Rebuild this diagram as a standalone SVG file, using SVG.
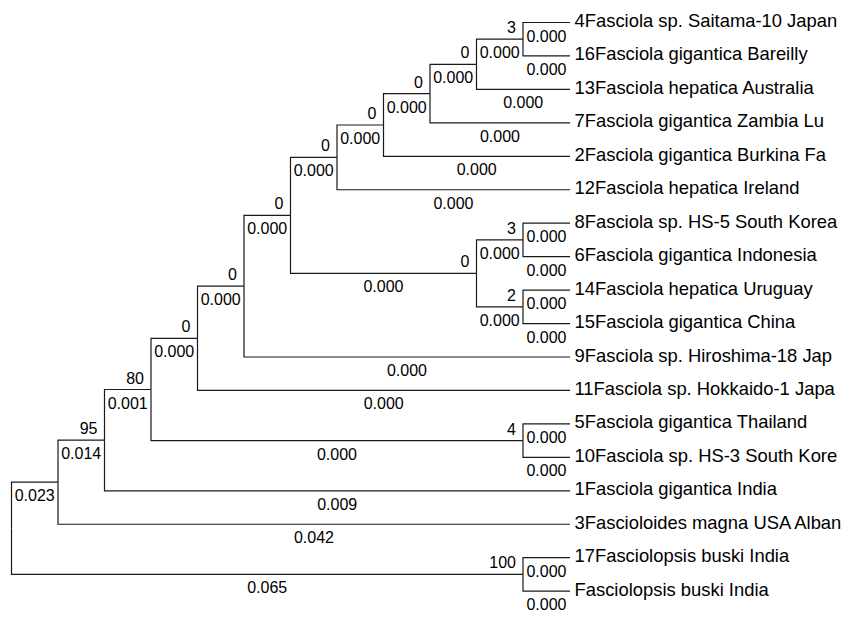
<svg xmlns="http://www.w3.org/2000/svg" width="858" height="617" viewBox="0 0 858 617">
<style>
.br{fill:none;stroke:#1a1a1a;stroke-width:1.2}
.lf{font-family:"Liberation Sans",Arial,sans-serif;font-size:18.4px;fill:#000}
.n{font-family:"Liberation Sans",Arial,sans-serif;font-size:16px;fill:#000}
.bs{text-anchor:end}
.bl{text-anchor:middle}
</style>
<rect width="858" height="617" fill="#fff"/>
<g id="connectors">
<path class="br" d="M11.5 528.3V482.2H58"/>
<path class="br" d="M11.5 528.3V574.4H523"/>
<path class="br" d="M58 482.2V440.2H104.5"/>
<path class="br" d="M58 482.2V524.25H570"/>
<path class="br" d="M104.5 440.2V389.5H151"/>
<path class="br" d="M104.5 440.2V490.8H570"/>
<path class="br" d="M151 389.5V338.3H197.5"/>
<path class="br" d="M151 389.5V440.6H523"/>
<path class="br" d="M197.5 338.3V286.2H244"/>
<path class="br" d="M197.5 338.3V390.45H570"/>
<path class="br" d="M244 286.2V215.4H290.5"/>
<path class="br" d="M244 286.2V357H570"/>
<path class="br" d="M290.5 215.4V157.4H337"/>
<path class="br" d="M290.5 215.4V273.4H476.5"/>
<path class="br" d="M337 157.4V125H383.5"/>
<path class="br" d="M337 157.4V189.75H570"/>
<path class="br" d="M383.5 125V93.6H430"/>
<path class="br" d="M383.5 125V156.3H570"/>
<path class="br" d="M430 93.6V64.3H476.5"/>
<path class="br" d="M430 93.6V122.85H570"/>
<path class="br" d="M476.5 64.3V39.2H523"/>
<path class="br" d="M476.5 64.3V89.4H570"/>
<path class="br" d="M523 39.2V22.5H570"/>
<path class="br" d="M523 39.2V55.95H570"/>
<path class="br" d="M476.5 273.4V239.9H523"/>
<path class="br" d="M476.5 273.4V306.8H523"/>
<path class="br" d="M523 239.9V223.2H570"/>
<path class="br" d="M523 239.9V256.65H570"/>
<path class="br" d="M523 306.8V290.1H570"/>
<path class="br" d="M523 306.8V323.55H570"/>
<path class="br" d="M523 440.6V423.9H570"/>
<path class="br" d="M523 440.6V457.35H570"/>
<path class="br" d="M523 574.4V557.7H570"/>
<path class="br" d="M523 574.4V591.15H570"/>
</g>
<g id="nodeA"><text class="n bs" x="516" y="33.2">3</text><text class="n bl" x="499.75" y="58.2">0.000</text></g>
<g id="nodeB"><text class="n bs" x="469.5" y="58.3">0</text><text class="n bl" x="453.25" y="83.3">0.000</text></g>
<g id="nodeC"><text class="n bs" x="423" y="87.6">0</text><text class="n bl" x="406.75" y="112.6">0.000</text></g>
<g id="nodeD"><text class="n bs" x="376.5" y="119">0</text><text class="n bl" x="360.25" y="144">0.000</text></g>
<g id="nodeE"><text class="n bs" x="330" y="151.4">0</text><text class="n bl" x="313.75" y="176.4">0.000</text></g>
<g id="nodeF"><text class="n bs" x="516" y="233.9">3</text><text class="n bl" x="499.75" y="258.9">0.000</text></g>
<g id="nodeG"><text class="n bs" x="516" y="300.8">2</text><text class="n bl" x="499.75" y="325.8">0.000</text></g>
<g id="nodeH"><text class="n bs" x="469.5" y="267.4">0</text><text class="n bl" x="383.5" y="292.4">0.000</text></g>
<g id="nodeI"><text class="n bs" x="283.5" y="209.4">0</text><text class="n bl" x="267.25" y="234.4">0.000</text></g>
<g id="nodeJ"><text class="n bs" x="237" y="280.2">0</text><text class="n bl" x="220.75" y="305.2">0.000</text></g>
<g id="nodeK"><text class="n bs" x="190.5" y="332.3">0</text><text class="n bl" x="174.25" y="357.3">0.000</text></g>
<g id="nodeL"><text class="n bs" x="516" y="434.6">4</text><text class="n bl" x="337" y="459.6">0.000</text></g>
<g id="nodeM"><text class="n bs" x="144" y="383.5">80</text><text class="n bl" x="127.75" y="408.5">0.001</text></g>
<g id="nodeN"><text class="n bs" x="97.5" y="434.2">95</text><text class="n bl" x="81.25" y="459.2">0.014</text></g>
<g id="nodeO"><text class="n bl" x="34.75" y="501.2">0.023</text></g>
<g id="nodeP"><text class="n bs" x="516" y="568.4">100</text><text class="n bl" x="267.25" y="593.4">0.065</text></g>
<g id="leaf4"><text class="lf" x="574.5" y="27">4Fasciola sp. Saitama-10 Japan</text><text class="n bl" x="546.5" y="41.5">0.000</text></g>
<g id="leaf16"><text class="lf" x="574.5" y="60.45">16Fasciola gigantica Bareilly</text><text class="n bl" x="546.5" y="74.95">0.000</text></g>
<g id="leaf13"><text class="lf" x="574.5" y="93.9">13Fasciola hepatica Australia</text><text class="n bl" x="523.25" y="108.4">0.000</text></g>
<g id="leaf7"><text class="lf" x="574.5" y="127.35">7Fasciola gigantica Zambia Lu</text><text class="n bl" x="500" y="141.85">0.000</text></g>
<g id="leaf2"><text class="lf" x="574.5" y="160.8">2Fasciola gigantica Burkina Fa</text><text class="n bl" x="476.75" y="175.3">0.000</text></g>
<g id="leaf12"><text class="lf" x="574.5" y="194.25">12Fasciola hepatica Ireland</text><text class="n bl" x="453.5" y="208.75">0.000</text></g>
<g id="leaf8"><text class="lf" x="574.5" y="227.7">8Fasciola sp. HS-5 South Korea</text><text class="n bl" x="546.5" y="242.2">0.000</text></g>
<g id="leaf6"><text class="lf" x="574.5" y="261.15">6Fasciola gigantica Indonesia</text><text class="n bl" x="546.5" y="275.65">0.000</text></g>
<g id="leaf14"><text class="lf" x="574.5" y="294.6">14Fasciola hepatica Uruguay</text><text class="n bl" x="546.5" y="309.1">0.000</text></g>
<g id="leaf15"><text class="lf" x="574.5" y="328.05">15Fasciola gigantica China</text><text class="n bl" x="546.5" y="342.55">0.000</text></g>
<g id="leaf9"><text class="lf" x="574.5" y="361.5">9Fasciola sp. Hiroshima-18 Jap</text><text class="n bl" x="407" y="376">0.000</text></g>
<g id="leaf11"><text class="lf" x="574.5" y="394.95">11Fasciola sp. Hokkaido-1 Japa</text><text class="n bl" x="383.75" y="409.45">0.000</text></g>
<g id="leaf5"><text class="lf" x="574.5" y="428.4">5Fasciola gigantica Thailand</text><text class="n bl" x="546.5" y="442.9">0.000</text></g>
<g id="leaf10"><text class="lf" x="574.5" y="461.85">10Fasciola sp. HS-3 South Kore</text><text class="n bl" x="546.5" y="476.35">0.000</text></g>
<g id="leaf1"><text class="lf" x="574.5" y="495.3">1Fasciola gigantica India</text><text class="n bl" x="337.25" y="509.8">0.009</text></g>
<g id="leaf3"><text class="lf" x="574.5" y="528.75">3Fascioloides magna USA Alban</text><text class="n bl" x="314" y="543.25">0.042</text></g>
<g id="leaf17"><text class="lf" x="574.5" y="562.2">17Fasciolopsis buski India</text><text class="n bl" x="546.5" y="576.7">0.000</text></g>
<g id="leafFb"><text class="lf" x="574.5" y="595.65">Fasciolopsis buski India</text><text class="n bl" x="546.5" y="610.15">0.000</text></g>
</svg>
